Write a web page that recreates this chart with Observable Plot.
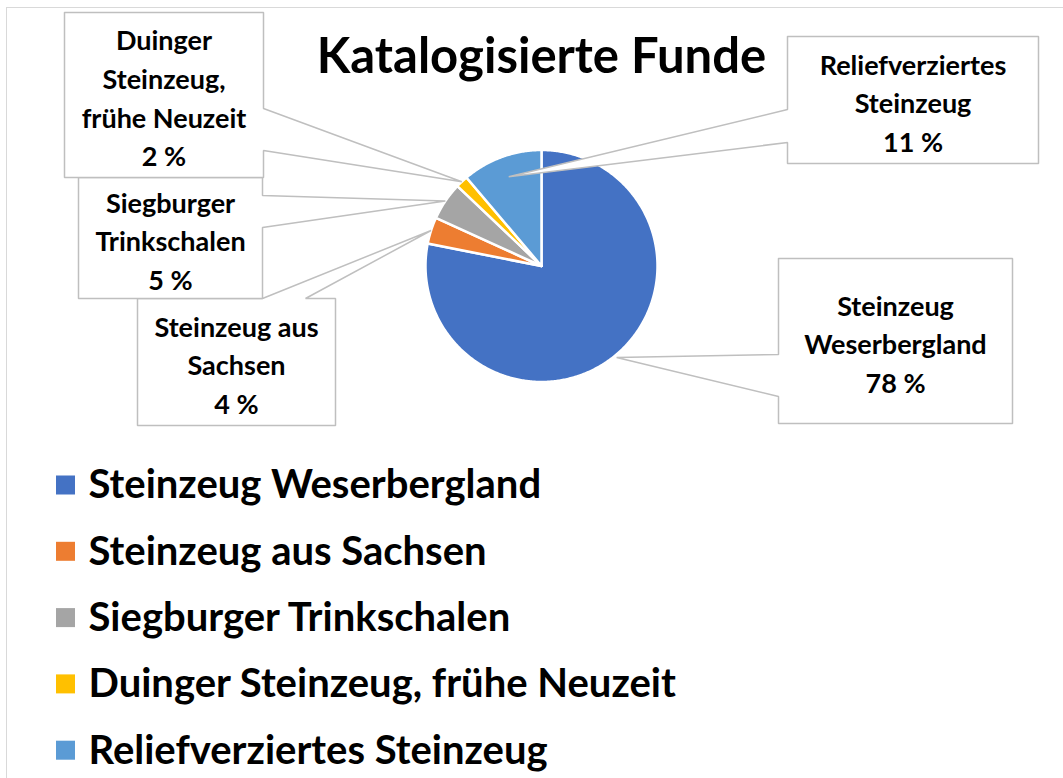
<!DOCTYPE html>
<html>
<head>
<meta charset="utf-8">
<script src="https://cdn.jsdelivr.net/npm/d3@7"></script>
<script src="https://cdn.jsdelivr.net/npm/@observablehq/plot@0.6"></script>
<style>
  html, body { margin: 0; padding: 0; background: #fff; }
  #wrap { position: relative; width: 1063px; height: 778px; overflow: hidden; }
  #frame { position: absolute; left: 6px; top: 7px; right: 0; bottom: 0; border-top: 1.5px solid #d9d9d9; border-left: 1.5px solid #d9d9d9; }
  #chart { position: absolute; left: 0; top: 0; }
</style>
</head>
<body>
<div id="wrap"><div id="frame"></div><div id="chart"></div></div>
<script>
// ---- data ----
const title = "Katalogisierte Funde";
const categories = [
  "Steinzeug Weserbergland",
  "Steinzeug aus Sachsen",
  "Siegburger Trinkschalen",
  "Duinger Steinzeug, frühe Neuzeit",
  "Reliefverziertes Steinzeug"
];
const values = [78.1, 3.7, 5.3, 1.7, 11.2];
const labelNames = [
  "Steinzeug\nWeserbergland",
  "Steinzeug aus\nSachsen",
  "Siegburger\nTrinkschalen",
  "Duinger\nSteinzeug,\nfrühe Neuzeit",
  "Reliefverziertes\nSteinzeug"
];
const colors = ["#4472C4", "#ED7D31", "#A5A5A5", "#FFC000", "#5B9BD5"];

// ---- layout (pixels) ----
const W = 1063, H = 778;
const pie = {cx: 541, cy: 265.5, r: 116};
const callouts = [
  {box: [778, 258, 1012, 423], side: "left",  base: [354, 396], tipR: 1.02},
  {box: [137, 298, 335, 425], side: "top",   base: [262, 305], tipR: 1.0},
  {box: [78, 177, 262, 298],  side: "right", base: [195, 227], tipR: 1.0},
  {box: [64, 12, 263, 177],   side: "right", base: [108, 150], tipR: 1.0},
  {box: [787, 36, 1038, 163], side: "left",  base: [109, 142], tipR: 0.82}
];
const legend = {x: 56, textX: 88, y0: 485, dy: 66.3, size: 19};

// ---- geometry from data ----
const arcs = d3.pie().sort(null).value(d => d.value).startAngle(0).endAngle(2 * Math.PI)(
  categories.map((c, i) => ({cat: c, value: values[i]}))
);
const P = (a, rr) => ({x: pie.cx + rr * Math.sin(a), y: pie.cy - rr * Math.cos(a)});

const slicePts = [];
arcs.forEach(a => {
  const cat = a.data.cat;
  slicePts.push({cat, ...P(0, 0)});
  const n = Math.max(4, Math.ceil((a.endAngle - a.startAngle) / 0.01));
  for (let k = 0; k <= n; k++) {
    const t = a.startAngle + (a.endAngle - a.startAngle) * k / n;
    slicePts.push({cat, ...P(t, pie.r)});
  }
  slicePts.push({cat, ...P(0, 0)});
});

const calloutPts = [];
const labelData = [];
arcs.forEach((a, i) => {
  const L = callouts[i];
  const [x1, y1, x2, y2] = L.box;
  const mid = (a.startAngle + a.endAngle) / 2;
  const tip = P(mid, pie.r * L.tipR);
  let pts;
  if (L.side === "right") {
    pts = [[x1, y1], [x2, y1], [x2, L.base[0]], [tip.x, tip.y], [x2, L.base[1]], [x2, y2], [x1, y2], [x1, y1]];
  } else if (L.side === "left") {
    pts = [[x1, y1], [x2, y1], [x2, y2], [x1, y2], [x1, L.base[1]], [tip.x, tip.y], [x1, L.base[0]], [x1, y1]];
  } else {
    pts = [[x1, y1], [L.base[0], y1], [tip.x, tip.y], [L.base[1], y1], [x2, y1], [x2, y2], [x1, y2], [x1, y1]];
  }
  pts.forEach(p => calloutPts.push({id: i, x: p[0], y: p[1]}));
  labelData.push({
    x: (x1 + x2) / 2,
    y: (y1 + y2) / 2 + 1,
    text: labelNames[i] + "\n" + Math.round(values[i]) + " %"
  });
});
const drawOrder = [1, 2, 3, 0, 4];
const calloutSorted = drawOrder.flatMap(i => calloutPts.filter(p => p.id === i));

const legendData = categories.map((c, i) => ({cat: c, i, y: legend.y0 + i * legend.dy}));

const chart = Plot.plot({
  width: W, height: H,
  margin: 0,
  style: {fontFamily: "Lato, 'Open Sans', sans-serif", background: "transparent"},
  x: {domain: [0, W], range: [0, W], axis: null},
  y: {domain: [0, H], range: [0, H], axis: null},
  color: {domain: categories, range: colors},
  marks: [
    Plot.line(slicePts, {x: "x", y: "y", z: "cat", fill: "cat", stroke: "white", strokeWidth: 2.5, strokeLinejoin: "round", curve: "linear"}),
    Plot.line(calloutSorted, {x: "x", y: "y", z: "id", fill: "white", stroke: "#BFBFBF", strokeWidth: 1.5, strokeLinejoin: "miter"}),
    Plot.text(labelData, {x: "x", y: "y", text: "text", fontSize: 27, fontWeight: "bold", lineHeight: 1.43, fill: "black"}),
    Plot.text([title], {x: () => 541, y: () => 57, text: d => d, fontSize: 49, fontWeight: "bold", fill: "black"}),
    Plot.rect(legendData, {x1: () => legend.x, x2: () => legend.x + legend.size, y1: d => d.y - legend.size / 2, y2: d => d.y + legend.size / 2, fill: "cat"}),
    Plot.text(legendData, {x: () => legend.textX, y: "y", text: "cat", textAnchor: "start", fontSize: 40, fontWeight: "bold", fill: "black"})
  ]
});
document.getElementById("chart").appendChild(chart);
</script>
</body>
</html>
